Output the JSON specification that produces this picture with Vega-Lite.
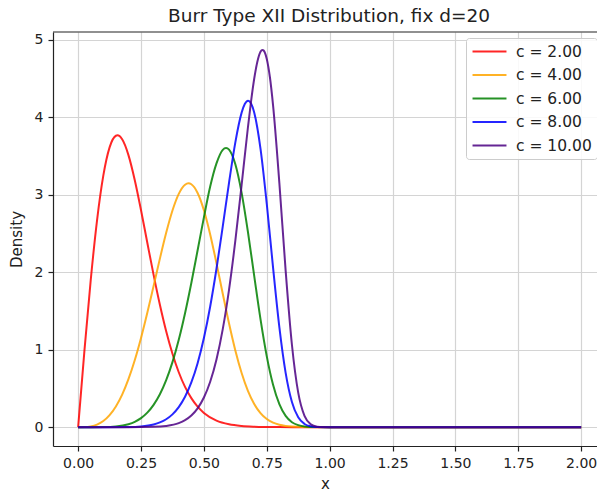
{
  "$schema": "https://vega.github.io/schema/vega-lite/v6.json",
  "width": 544,
  "height": 414,
  "autosize": {"type": "none"},
  "padding": {"left": 53, "top": 32, "right": 0, "bottom": 45},
  "background": "white",
  "title": {"text": "Burr Type XII Distribution, fix d=20", "fontSize": 18.5, "font": "DejaVu Sans", "fontWeight": "normal", "color": "#222222", "anchor": "middle", "dx": 4, "offset": 6},
  "config": {
    "view": {"stroke": null},
    "font": "DejaVu Sans",
    "axis": {
      "domainColor": "#222222", "domainWidth": 1.2, "tickColor": "#222222", "tickSize": 5, "tickWidth": 1.2,
      "labelFontSize": 14, "labelColor": "#222222", "labelFont": "DejaVu Sans", "labelPadding": 5,
      "gridColor": "#d4d4d4", "gridWidth": 1.2,
      "titleFontSize": 15, "titleColor": "#222222", "titleFont": "DejaVu Sans", "titleFontWeight": "normal"
    }
  },
  "layer": [
    {
      "data": {"values": [
        {"c": "c = 2.00", "x": 0, "y": 0}, {"c": "c = 2.00", "x": 0.025, "y": 0.987}, {"c": "c = 2.00", "x": 0.05, "y": 1.898}, {"c": "c = 2.00", "x": 0.075, "y": 2.667}, {"c": "c = 2.00", "x": 0.1, "y": 3.246}, {"c": "c = 2.00", "x": 0.125, "y": 3.611}, {"c": "c = 2.00", "x": 0.15, "y": 3.761}, {"c": "c = 2.00", "x": 0.1562, "y": 3.766}, {"c": "c = 2.00", "x": 0.175, "y": 3.715}, {"c": "c = 2.00", "x": 0.2, "y": 3.511}, {"c": "c = 2.00", "x": 0.225, "y": 3.19}, {"c": "c = 2.00", "x": 0.25, "y": 2.8}, {"c": "c = 2.00", "x": 0.275, "y": 2.38}, {"c": "c = 2.00", "x": 0.3, "y": 1.965}, {"c": "c = 2.00", "x": 0.325, "y": 1.579}, {"c": "c = 2.00", "x": 0.35, "y": 1.237}, {"c": "c = 2.00", "x": 0.375, "y": 0.947}, {"c": "c = 2.00", "x": 0.4, "y": 0.709}, {"c": "c = 2.00", "x": 0.425, "y": 0.52}, {"c": "c = 2.00", "x": 0.45, "y": 0.375}, {"c": "c = 2.00", "x": 0.475, "y": 0.265}, {"c": "c = 2.00", "x": 0.5, "y": 0.184}, {"c": "c = 2.00", "x": 0.55, "y": 0.0855}, {"c": "c = 2.00", "x": 0.6, "y": 0.0377}, {"c": "c = 2.00", "x": 0.65, "y": 0.0159}, {"c": "c = 2.00", "x": 0.7, "y": 0.0065}, {"c": "c = 2.00", "x": 0.75, "y": 0.0026}, {"c": "c = 2.00", "x": 0.8, "y": 0.001}, {"c": "c = 2.00", "x": 0.9, "y": 0.0001}, {"c": "c = 2.00", "x": 1.0, "y": 0}, {"c": "c = 2.00", "x": 1.25, "y": 0}, {"c": "c = 2.00", "x": 1.5, "y": 0}, {"c": "c = 2.00", "x": 1.75, "y": 0}, {"c": "c = 2.00", "x": 2.0, "y": 0},
        {"c": "c = 4.00", "x": 0, "y": 0}, {"c": "c = 4.00", "x": 0.025, "y": 0.0013}, {"c": "c = 4.00", "x": 0.05, "y": 0.01}, {"c": "c = 4.00", "x": 0.075, "y": 0.0337}, {"c": "c = 4.00", "x": 0.1, "y": 0.0798}, {"c": "c = 4.00", "x": 0.125, "y": 0.1555}, {"c": "c = 4.00", "x": 0.15, "y": 0.2671}, {"c": "c = 4.00", "x": 0.175, "y": 0.4204}, {"c": "c = 4.00", "x": 0.2, "y": 0.6189}, {"c": "c = 4.00", "x": 0.225, "y": 0.8636}, {"c": "c = 4.00", "x": 0.25, "y": 1.1517}, {"c": "c = 4.00", "x": 0.275, "y": 1.476}, {"c": "c = 4.00", "x": 0.3, "y": 1.8234}, {"c": "c = 4.00", "x": 0.325, "y": 2.1755}, {"c": "c = 4.00", "x": 0.35, "y": 2.5087}, {"c": "c = 4.00", "x": 0.375, "y": 2.7964}, {"c": "c = 4.00", "x": 0.4, "y": 3.0113}, {"c": "c = 4.00", "x": 0.425, "y": 3.1294}, {"c": "c = 4.00", "x": 0.4387, "y": 3.147}, {"c": "c = 4.00", "x": 0.45, "y": 3.1347}, {"c": "c = 4.00", "x": 0.475, "y": 3.0222}, {"c": "c = 4.00", "x": 0.5, "y": 2.7995}, {"c": "c = 4.00", "x": 0.525, "y": 2.4879}, {"c": "c = 4.00", "x": 0.55, "y": 2.1162}, {"c": "c = 4.00", "x": 0.575, "y": 1.7219}, {"c": "c = 4.00", "x": 0.6, "y": 1.3373}, {"c": "c = 4.00", "x": 0.625, "y": 0.9899}, {"c": "c = 4.00", "x": 0.65, "y": 0.6982}, {"c": "c = 4.00", "x": 0.675, "y": 0.4684}, {"c": "c = 4.00", "x": 0.7, "y": 0.2989}, {"c": "c = 4.00", "x": 0.725, "y": 0.1816}, {"c": "c = 4.00", "x": 0.75, "y": 0.105}, {"c": "c = 4.00", "x": 0.775, "y": 0.0578}, {"c": "c = 4.00", "x": 0.8, "y": 0.0303}, {"c": "c = 4.00", "x": 0.825, "y": 0.0151}, {"c": "c = 4.00", "x": 0.85, "y": 0.0073}, {"c": "c = 4.00", "x": 0.9, "y": 0.0015}, {"c": "c = 4.00", "x": 0.95, "y": 0.0003}, {"c": "c = 4.00", "x": 1.0, "y": 0}, {"c": "c = 4.00", "x": 1.25, "y": 0}, {"c": "c = 4.00", "x": 1.5, "y": 0}, {"c": "c = 4.00", "x": 1.75, "y": 0}, {"c": "c = 4.00", "x": 2.0, "y": 0},
        {"c": "c = 6.00", "x": 0, "y": 0}, {"c": "c = 6.00", "x": 0.05, "y": 0}, {"c": "c = 6.00", "x": 0.1, "y": 0.0012}, {"c": "c = 6.00", "x": 0.15, "y": 0.0091}, {"c": "c = 6.00", "x": 0.2, "y": 0.0383}, {"c": "c = 6.00", "x": 0.225, "y": 0.069}, {"c": "c = 6.00", "x": 0.25, "y": 0.1166}, {"c": "c = 6.00", "x": 0.275, "y": 0.187}, {"c": "c = 6.00", "x": 0.3, "y": 0.2872}, {"c": "c = 6.00", "x": 0.325, "y": 0.4244}, {"c": "c = 6.00", "x": 0.35, "y": 0.6064}, {"c": "c = 6.00", "x": 0.375, "y": 0.8395}, {"c": "c = 6.00", "x": 0.4, "y": 1.1277}, {"c": "c = 6.00", "x": 0.425, "y": 1.4708}, {"c": "c = 6.00", "x": 0.45, "y": 1.8613}, {"c": "c = 6.00", "x": 0.475, "y": 2.283}, {"c": "c = 6.00", "x": 0.5, "y": 2.7079}, {"c": "c = 6.00", "x": 0.525, "y": 3.1049}, {"c": "c = 6.00", "x": 0.55, "y": 3.4039}, {"c": "c = 6.00", "x": 0.575, "y": 3.5795}, {"c": "c = 6.00", "x": 0.588, "y": 3.603}, {"c": "c = 6.00", "x": 0.6, "y": 3.5811}, {"c": "c = 6.00", "x": 0.625, "y": 3.3925}, {"c": "c = 6.00", "x": 0.65, "y": 3.0246}, {"c": "c = 6.00", "x": 0.675, "y": 2.5218}, {"c": "c = 6.00", "x": 0.7, "y": 1.9525}, {"c": "c = 6.00", "x": 0.725, "y": 1.3941}, {"c": "c = 6.00", "x": 0.75, "y": 0.9135}, {"c": "c = 6.00", "x": 0.775, "y": 0.546}, {"c": "c = 6.00", "x": 0.8, "y": 0.296}, {"c": "c = 6.00", "x": 0.825, "y": 0.1451}, {"c": "c = 6.00", "x": 0.85, "y": 0.0643}, {"c": "c = 6.00", "x": 0.875, "y": 0.0258}, {"c": "c = 6.00", "x": 0.9, "y": 0.009}, {"c": "c = 6.00", "x": 0.95, "y": 0.0009}, {"c": "c = 6.00", "x": 1.0, "y": 0.0001}, {"c": "c = 6.00", "x": 1.25, "y": 0}, {"c": "c = 6.00", "x": 1.5, "y": 0}, {"c": "c = 6.00", "x": 1.75, "y": 0}, {"c": "c = 6.00", "x": 2.0, "y": 0},
        {"c": "c = 8.00", "x": 0, "y": 0}, {"c": "c = 8.00", "x": 0.1, "y": 0}, {"c": "c = 8.00", "x": 0.2, "y": 0.002}, {"c": "c = 8.00", "x": 0.25, "y": 0.0098}, {"c": "c = 8.00", "x": 0.3, "y": 0.0349}, {"c": "c = 8.00", "x": 0.325, "y": 0.0611}, {"c": "c = 8.00", "x": 0.35, "y": 0.1024}, {"c": "c = 8.00", "x": 0.375, "y": 0.1655}, {"c": "c = 8.00", "x": 0.4, "y": 0.2586}, {"c": "c = 8.00", "x": 0.425, "y": 0.3919}, {"c": "c = 8.00", "x": 0.45, "y": 0.5771}, {"c": "c = 8.00", "x": 0.475, "y": 0.8262}, {"c": "c = 8.00", "x": 0.5, "y": 1.1517}, {"c": "c = 8.00", "x": 0.525, "y": 1.5579}, {"c": "c = 8.00", "x": 0.55, "y": 2.0446}, {"c": "c = 8.00", "x": 0.575, "y": 2.5911}, {"c": "c = 8.00", "x": 0.6, "y": 3.157}, {"c": "c = 8.00", "x": 0.625, "y": 3.6759}, {"c": "c = 8.00", "x": 0.65, "y": 4.0591}, {"c": "c = 8.00", "x": 0.6625, "y": 4.1699}, {"c": "c = 8.00", "x": 0.6757, "y": 4.212}, {"c": "c = 8.00", "x": 0.6875, "y": 4.1768}, {"c": "c = 8.00", "x": 0.7, "y": 4.0613}, {"c": "c = 8.00", "x": 0.725, "y": 3.5951}, {"c": "c = 8.00", "x": 0.75, "y": 2.88}, {"c": "c = 8.00", "x": 0.775, "y": 2.0586}, {"c": "c = 8.00", "x": 0.8, "y": 1.2912}, {"c": "c = 8.00", "x": 0.825, "y": 0.7017}, {"c": "c = 8.00", "x": 0.85, "y": 0.3251}, {"c": "c = 8.00", "x": 0.875, "y": 0.1272}, {"c": "c = 8.00", "x": 0.9, "y": 0.0416}, {"c": "c = 8.00", "x": 0.925, "y": 0.0115}, {"c": "c = 8.00", "x": 0.95, "y": 0.0026}, {"c": "c = 8.00", "x": 1.0, "y": 0.0001}, {"c": "c = 8.00", "x": 1.25, "y": 0}, {"c": "c = 8.00", "x": 1.5, "y": 0}, {"c": "c = 8.00", "x": 1.75, "y": 0}, {"c": "c = 8.00", "x": 2.0, "y": 0},
        {"c": "c = 10.00", "x": 0, "y": 0}, {"c": "c = 10.00", "x": 0.1, "y": 0}, {"c": "c = 10.00", "x": 0.2, "y": 0}, {"c": "c = 10.00", "x": 0.3, "y": 0.0039}, {"c": "c = 10.00", "x": 0.35, "y": 0.0158}, {"c": "c = 10.00", "x": 0.4, "y": 0.0523}, {"c": "c = 10.00", "x": 0.425, "y": 0.0901}, {"c": "c = 10.00", "x": 0.45, "y": 0.1503}, {"c": "c = 10.00", "x": 0.475, "y": 0.2433}, {"c": "c = 10.00", "x": 0.5, "y": 0.3827}, {"c": "c = 10.00", "x": 0.525, "y": 0.5862}, {"c": "c = 10.00", "x": 0.55, "y": 0.8734}, {"c": "c = 10.00", "x": 0.575, "y": 1.2652}, {"c": "c = 10.00", "x": 0.6, "y": 1.7759}, {"c": "c = 10.00", "x": 0.625, "y": 2.4065}, {"c": "c = 10.00", "x": 0.65, "y": 3.1281}, {"c": "c = 10.00", "x": 0.675, "y": 3.8674}, {"c": "c = 10.00", "x": 0.6875, "y": 4.2057}, {"c": "c = 10.00", "x": 0.7, "y": 4.4964}, {"c": "c = 10.00", "x": 0.7125, "y": 4.7162}, {"c": "c = 10.00", "x": 0.725, "y": 4.8455}, {"c": "c = 10.00", "x": 0.733, "y": 4.869}, {"c": "c = 10.00", "x": 0.7375, "y": 4.861}, {"c": "c = 10.00", "x": 0.75, "y": 4.7527}, {"c": "c = 10.00", "x": 0.7625, "y": 4.5159}, {"c": "c = 10.00", "x": 0.775, "y": 4.1534}, {"c": "c = 10.00", "x": 0.8, "y": 3.1525}, {"c": "c = 10.00", "x": 0.825, "y": 2.021}, {"c": "c = 10.00", "x": 0.85, "y": 1.0636}, {"c": "c = 10.00", "x": 0.875, "y": 0.4457}, {"c": "c = 10.00", "x": 0.9, "y": 0.1449}, {"c": "c = 10.00", "x": 0.925, "y": 0.0357}, {"c": "c = 10.00", "x": 0.95, "y": 0.0068}, {"c": "c = 10.00", "x": 0.975, "y": 0.0009}, {"c": "c = 10.00", "x": 1.0, "y": 0.0001}, {"c": "c = 10.00", "x": 1.25, "y": 0}, {"c": "c = 10.00", "x": 1.5, "y": 0}, {"c": "c = 10.00", "x": 1.75, "y": 0}, {"c": "c = 10.00", "x": 2.0, "y": 0}
      ]},
      "mark": {"type": "line", "strokeWidth": 2, "opacity": 0.85, "interpolate": "monotone", "clip": true},
      "encoding": {
        "x": {"field": "x", "type": "quantitative", "scale": {"domain": [-0.1, 2.063], "nice": false, "zero": false},
              "axis": {"values": [0, 0.25, 0.5, 0.75, 1, 1.25, 1.5, 1.75, 2], "format": ".2f", "title": "x", "titlePadding": 6}},
        "y": {"field": "y", "type": "quantitative", "scale": {"domain": [-0.243, 5.1], "nice": false, "zero": false},
              "axis": {"values": [0, 1, 2, 3, 4, 5], "format": "d", "title": "Density", "titlePadding": 10}},
        "color": {"field": "c", "type": "nominal",
                  "scale": {"domain": ["c = 2.00", "c = 4.00", "c = 6.00", "c = 8.00", "c = 10.00"], "range": ["#ff0000", "#ffa500", "#008000", "#0000ff", "#4b0082"]},
                  "legend": {"title": null, "orient": "none", "legendX": 413, "legendY": 6, "symbolType": "M-2.4,0H2.4", "symbolSize": 200, "symbolStrokeWidth": 2, "symbolOffset": 10,
                             "labelFontSize": 15.5, "labelColor": "#222222", "labelOffset": 18, "rowPadding": 6.5, "padding": 5,
                             "fillColor": "rgba(255,255,255,0.85)", "strokeColor": "#cccccc", "cornerRadius": 3}}
      }
    },
    {
      "data": {"values": [{}]},
      "mark": {"type": "rule", "color": "#222222", "strokeWidth": 1.2},
      "encoding": {"y": {"datum": 5.1}}
    }
  ]
}
